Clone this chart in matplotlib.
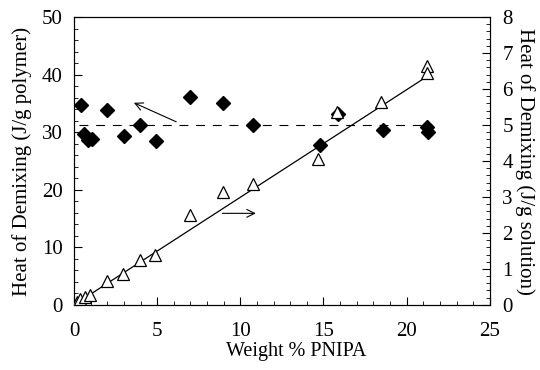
#!/usr/bin/env python3
"""Heat of demixing vs weight % PNIPA (per g polymer and per g solution)."""
import numpy as np
import matplotlib
matplotlib.use("Agg")
import matplotlib.pyplot as plt
from matplotlib.ticker import MultipleLocator

plt.rcParams["font.family"] = ["Liberation Serif", "DejaVu Serif"]

# filled diamonds: J/g polymer (left axis)
POLY_WT = [0.40, 0.60, 0.86, 1.06, 2.0, 3.0, 3.97, 4.91, 6.97, 8.97, 10.77,
           14.78, 15.85, 18.55, 21.23, 21.3]
POLY_H = [34.8, 29.7, 28.6, 28.8, 33.8, 29.4, 31.3, 28.4, 36.1, 35.1, 31.2,
          27.7, 33.2, 30.3, 30.9, 30.1]

# open triangles: J/g solution (right axis)
SOL_WT = [0.2, 0.36, 0.66, 0.96, 1.96, 2.96, 3.97, 4.87, 6.97, 8.94, 10.74,
          14.68, 15.84, 18.48, 21.2, 21.25]
SOL_H = [0.08, 0.16, 0.23, 0.28, 0.67, 0.85, 1.24, 1.38, 2.5, 3.13, 3.35,
         4.05, 5.35, 5.65, 6.65, 6.45]

MEAN_H = 31.3          # dashed mean, J/g polymer
FIT_X = [0.15, 21.1]   # extent of the linear fit
FIT_SLOPE = 0.299      # J/g solution per wt %


def main():
    fig = plt.figure(figsize=(5.4, 3.7), dpi=100)
    ax = fig.add_axes([0.137, 0.176, 0.770, 0.778])
    ax2 = ax.twinx()

    ax.plot(POLY_WT, POLY_H, "D", color="black", markersize=7, zorder=3)
    ax.plot([POLY_WT[0] - 0.1, POLY_WT[-1]], [MEAN_H, MEAN_H], color="black",
            linestyle=(0, (8, 7)), linewidth=0.8)

    fx = np.array(FIT_X)
    ax2.plot(fx, FIT_SLOPE * fx, color="black", linewidth=0.9)
    ax2.plot(SOL_WT, SOL_H, "^", color="black", markerfacecolor="white",
             markersize=8, markeredgewidth=0.9, zorder=3)

    # arrows pointing to the axis each series belongs to
    ax.annotate("", xy=(3.45, 35.3), xytext=(6.3, 31.6),
                arrowprops=dict(arrowstyle="->", color="black", lw=0.8,
                                mutation_scale=14))
    ax.annotate("", xy=(11.1, 15.9), xytext=(8.75, 15.9),
                arrowprops=dict(arrowstyle="->", color="black", lw=0.8,
                                mutation_scale=14))

    ax.set_xlim(0, 25)
    ax.set_ylim(0, 50)
    ax2.set_ylim(0, 8)

    ax.xaxis.set_major_locator(MultipleLocator(5))
    ax.xaxis.set_minor_locator(MultipleLocator(1))
    ax.yaxis.set_major_locator(MultipleLocator(10))
    ax.yaxis.set_minor_locator(MultipleLocator(2))
    ax2.yaxis.set_major_locator(MultipleLocator(1))
    ax2.yaxis.set_minor_locator(MultipleLocator(0.2))

    for a in (ax, ax2):
        a.tick_params(which="both", direction="in", labelsize=15)
        a.tick_params(which="major", length=6, width=0.8)
        a.tick_params(which="minor", length=3, width=0.6)
    ax.tick_params(top=False, which="both")
    ax.tick_params(axis="y", pad=8)
    ax.tick_params(axis="x", pad=12)
    ax2.tick_params(axis="y", pad=9)

    ax.set_xlabel("Weight % PNIPA", fontsize=14.5, labelpad=5)
    ax.xaxis.set_label_coords(0.535, -0.13)
    ax.set_ylabel("Heat of Demixing (J/g polymer)", fontsize=15, labelpad=7)
    ax2.set_ylabel("Heat of Demixing (J/g solution)", fontsize=15,
                   rotation=270, labelpad=16)

    fig.savefig("out.png", dpi=100)


if __name__ == "__main__":
    main()
